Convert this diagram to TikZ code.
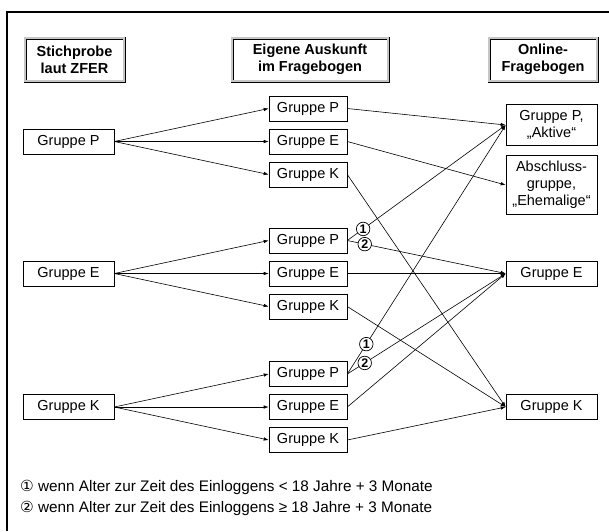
\documentclass[tikz,border=0pt]{standalone}
\usepackage{fontspec}
\setmainfont{Liberation Sans}
\newfontfamily\symfont{DejaVu Sans}
\usetikzlibrary{arrows.meta}
\tikzset{
  grp/.style={draw,line width=0.6pt,minimum height=25pt,inner sep=0pt,align=center,
    font=\fontsize{14.5}{17}\selectfont},
  lgrp/.style={grp,minimum width=91pt},
  mgrp/.style={grp,minimum width=78pt},
  head/.style={draw,line width=0.6pt,double=gray!45,double distance=1.8pt,
    minimum height=43pt,inner sep=0pt,align=center,
    font=\bfseries\fontsize{14.5}{17}\selectfont},
  flow/.style={line width=0.6pt,-{Latex[length=5pt,width=3.5pt]}},
  num/.style={circle,draw,line width=0.7pt,fill=white,inner sep=0pt,minimum size=13.5pt,
    font=\bfseries\fontsize{12.5}{12.5}\selectfont},
  note/.style={anchor=west,inner sep=0pt,font=\fontsize{15.3}{18}\selectfont}
}

\begin{document}
\begin{tikzpicture}[x=1pt,y=-1pt]
    \useasboundingbox (0,0) rectangle (609,531);
    \draw[line width=2pt] (609,12) -- (7,12) -- (7,531);

    % column heads
    \path
    (74.5,59.5) node[head,minimum width=99pt] (hZFER) {Stichprobe\\laut ZFER}
    (310,59.5) node[head,minimum width=156pt] (hAusk) {Eigene Auskunft\\im Fragebogen}
    (543,59.5) node[head,minimum width=108pt] (hOnl) {Online-\\Fragebogen}
    ;

    % sample
    \path
    (68.5,141.5) node[lgrp] (zP) {Gruppe P}
    (68.5,273.5) node[lgrp] (zE) {Gruppe E}
    (68.5,407) node[lgrp] (zK) {Gruppe K}
    ;

    % own statement
    \path
    (308,108.5) node[mgrp] (mP1) {Gruppe P}
    (308,141.5) node[mgrp] (mE1) {Gruppe E}
    (308,174.5) node[mgrp] (mK1) {Gruppe K}
    (308,240.5) node[mgrp] (mP2) {Gruppe P}
    (308,273.5) node[mgrp] (mE2) {Gruppe E}
    (308,306.5) node[mgrp] (mK2) {Gruppe K}
    (308,374) node[mgrp] (mP3) {Gruppe P}
    (308,407) node[mgrp] (mE3) {Gruppe E}
    (308,440) node[mgrp] (mK3) {Gruppe K}
    ;

    % online questionnaire
    \path
    (551.5,125) node[lgrp,minimum height=41pt] (oAkt) {Gruppe P,\\„Aktive“}
    (551.5,185) node[lgrp,minimum height=59pt] (oEhe) {Abschluss-\\gruppe,\\„Ehemalige“}
    (551.5,273.5) node[lgrp] (oE) {Gruppe E}
    (551.5,407) node[lgrp] (oK) {Gruppe K}
    ;

    \draw[flow] (zP.east) -- (mP1.west);
    \draw[flow] (zP.east) -- (mE1.west);
    \draw[flow] (zP.east) -- (mK1.west);
    \draw[flow] (zE.east) -- (mP2.west);
    \draw[flow] (zE.east) -- (mE2.west);
    \draw[flow] (zE.east) -- (mK2.west);
    \draw[flow] (zK.east) -- (mP3.west);
    \draw[flow] (zK.east) -- (mE3.west);
    \draw[flow] (zK.east) -- (mK3.west);

    \draw[flow] (mP1.east) -- (oAkt.west);
    \draw[flow] (mE1.east) -- (oEhe.west);
    \draw[flow] (mK1.east) -- (oK.west);
    \draw[flow] (mP2.east) -- node[num,pos=0.1] {1} (oAkt.west);
    \draw[flow] (mP2.east) -- node[num,pos=0.11] {2} (oE.west);
    \draw[flow] (mE2.east) -- (oE.west);
    \draw[flow] (mK2.east) -- (oK.west);
    \draw[flow] (mP3.east) -- node[num,pos=0.12] {1} (oAkt.west);
    \draw[flow] (mP3.east) -- node[num,pos=0.11] {2} (oE.west);
    \draw[flow] (mE3.east) -- (oE.west);
    \draw[flow] (mK3.east) -- (oK.west);

    % notes
    \path
    (20,487) node[note] (fn1) {{\symfont ①} wenn Alter zur Zeit des Einloggens < 18 Jahre + 3 Monate}
    (20,508) node[note] (fn2) {{\symfont ②} wenn Alter zur Zeit des Einloggens ≥ 18 Jahre + 3 Monate}
    ;
\end{tikzpicture}
\end{document}
